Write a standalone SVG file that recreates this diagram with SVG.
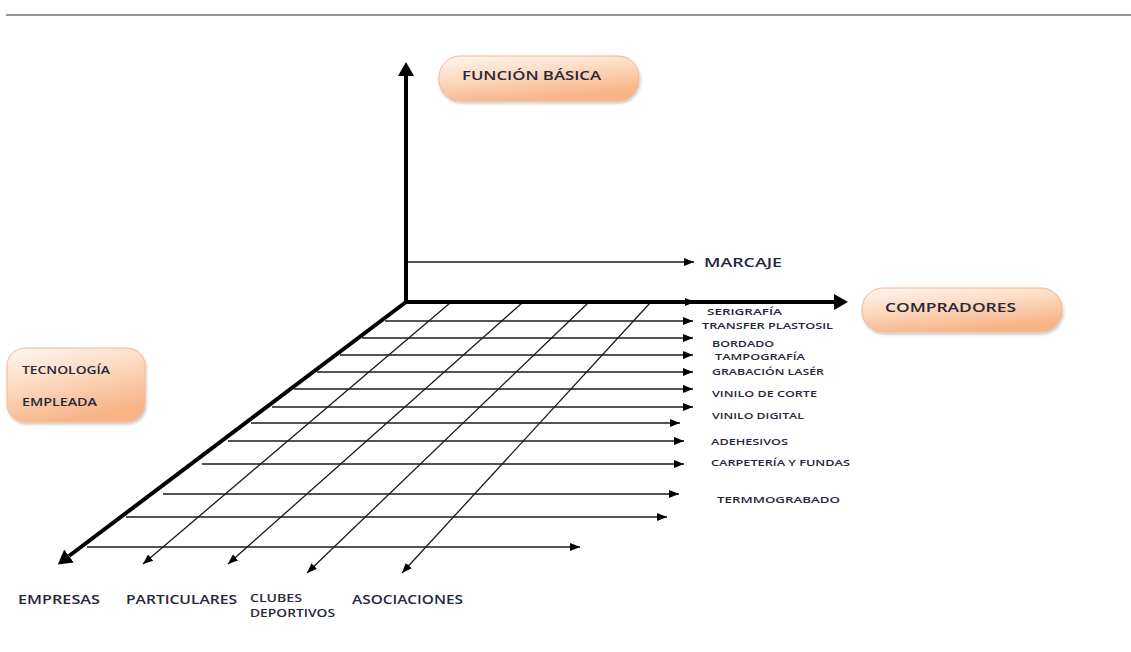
<svg xmlns="http://www.w3.org/2000/svg" width="1131" height="652" viewBox="0 0 1131 652">
<style>
.grid{stroke:#1a1a1a;stroke-width:1.3;fill:none;marker-end:url(#ah)}
.thick{stroke:#000;stroke-width:4;fill:none}
.box{fill:url(#peach);stroke:#f2b892;stroke-width:1;filter:url(#sh)}
text{font-family:"Open Sans","Liberation Sans",Arial,sans-serif;fill:#26263c;font-weight:600}
.big{font-size:13px}
.mid{font-size:12px}
.sm{font-size:9.5px}
.tec{font-size:10.5px}
</style>
<defs>
<linearGradient id="peach" x1="0" y1="0" x2="0.4" y2="1">
<stop offset="0" stop-color="#fef6f1"/>
<stop offset="0.45" stop-color="#fcdcc4"/>
<stop offset="1" stop-color="#f7b487"/>
</linearGradient>
<filter id="sh" x="-10%" y="-20%" width="130%" height="150%">
<feDropShadow dx="1" dy="2" stdDeviation="1.5" flood-color="#000" flood-opacity="0.22"/>
</filter>
<marker id="ah" markerUnits="userSpaceOnUse" markerWidth="10" markerHeight="8" refX="10" refY="4" orient="auto">
<path d="M0,0 L10,4 L0,8 z" fill="#000"/>
</marker>
<marker id="big" markerUnits="userSpaceOnUse" markerWidth="14" markerHeight="16" refX="0" refY="8" orient="auto-start-reverse">
<path d="M0,0 L14,8 L0,16 z" fill="#000"/>
</marker>
</defs>
<line x1="6" y1="15" x2="1131" y2="15" stroke="#777" stroke-width="1.5"/>
<g id="connectors">
<line class="grid" x1="406" y1="302" x2="695" y2="302"/>
<line class="grid" x1="385" y1="321" x2="693" y2="321"/>
<line class="grid" x1="362" y1="338" x2="693" y2="338"/>
<line class="grid" x1="340" y1="355" x2="693" y2="355"/>
<line class="grid" x1="317" y1="372" x2="693" y2="372"/>
<line class="grid" x1="294" y1="389" x2="693" y2="389"/>
<line class="grid" x1="272" y1="407" x2="693" y2="407"/>
<line class="grid" x1="251" y1="423" x2="680" y2="423"/>
<line class="grid" x1="228" y1="441" x2="684" y2="441"/>
<line class="grid" x1="202" y1="464" x2="684" y2="464"/>
<line class="grid" x1="163" y1="494" x2="679" y2="494"/>
<line class="grid" x1="126" y1="517" x2="667" y2="517"/>
<line class="grid" x1="87" y1="547" x2="580" y2="547"/>
<line class="grid" x1="450" y1="303" x2="143" y2="564"/>
<line class="grid" x1="522" y1="303" x2="228" y2="564"/>
<line class="grid" x1="588" y1="303" x2="307" y2="573"/>
<line class="grid" x1="650" y1="303" x2="402" y2="573"/>
<line class="grid" x1="408" y1="262" x2="694" y2="262"/>
<path class="thick" d="M406,76 L406,302 L834,302" marker-start="url(#big)" marker-end="url(#big)"/>
<line class="thick" x1="406" y1="302" x2="69" y2="556" marker-end="url(#big)"/>
</g>
<g id="funcion-basica">
<rect class="box" x="439" y="56" width="200" height="45" rx="21"/>
<text class="big" x="462" y="80" textLength="139" lengthAdjust="spacingAndGlyphs">FUNCIÓN BÁSICA</text>
</g>
<g id="compradores">
<rect class="box" x="862" y="288" width="200" height="44" rx="21"/>
<text class="big" x="885" y="312" textLength="131" lengthAdjust="spacingAndGlyphs">COMPRADORES</text>
</g>
<g id="tecnologia">
<rect class="box" x="7" y="348" width="138" height="74" rx="18"/>
<text class="tec" x="22" y="374" textLength="88" lengthAdjust="spacingAndGlyphs">TECNOLOGÍA</text>
<text class="tec" x="22" y="406" textLength="75" lengthAdjust="spacingAndGlyphs">EMPLEADA</text>
</g>
<g id="marcaje">
<text class="big" x="704" y="267" textLength="78" lengthAdjust="spacingAndGlyphs">MARCAJE</text>
</g>
<g id="tecnologias">
<text class="sm" x="707" y="315" textLength="75" lengthAdjust="spacingAndGlyphs">SERIGRAFÍA</text>
<text class="sm" x="702" y="329" textLength="131" lengthAdjust="spacingAndGlyphs">TRANSFER PLASTOSIL</text>
<text class="sm" x="712" y="347" textLength="62" lengthAdjust="spacingAndGlyphs">BORDADO</text>
<text class="sm" x="715" y="360" textLength="90" lengthAdjust="spacingAndGlyphs">TAMPOGRAFÍA</text>
<text class="sm" x="712" y="375" textLength="112" lengthAdjust="spacingAndGlyphs">GRABACIÓN LASÉR</text>
<text class="sm" x="712" y="397" textLength="105" lengthAdjust="spacingAndGlyphs">VINILO DE CORTE</text>
<text class="sm" x="712" y="419" textLength="92" lengthAdjust="spacingAndGlyphs">VINILO DIGITAL</text>
<text class="sm" x="711" y="445" textLength="77" lengthAdjust="spacingAndGlyphs">ADEHESIVOS</text>
<text class="sm" x="711" y="466" textLength="139" lengthAdjust="spacingAndGlyphs">CARPETERÍA Y FUNDAS</text>
<text class="sm" x="717" y="503" textLength="123" lengthAdjust="spacingAndGlyphs">TERMMOGRABADO</text>
</g>
<g id="compradores-lista">
<text class="mid" x="18" y="604" textLength="82" lengthAdjust="spacingAndGlyphs">EMPRESAS</text>
<text class="mid" x="126" y="604" textLength="111" lengthAdjust="spacingAndGlyphs">PARTICULARES</text>
<text class="tec" x="250" y="602" textLength="52" lengthAdjust="spacingAndGlyphs">CLUBES</text>
<text class="tec" x="250" y="617" textLength="85" lengthAdjust="spacingAndGlyphs">DEPORTIVOS</text>
<text class="mid" x="352" y="604" textLength="111" lengthAdjust="spacingAndGlyphs">ASOCIACIONES</text>
</g>
</svg>
